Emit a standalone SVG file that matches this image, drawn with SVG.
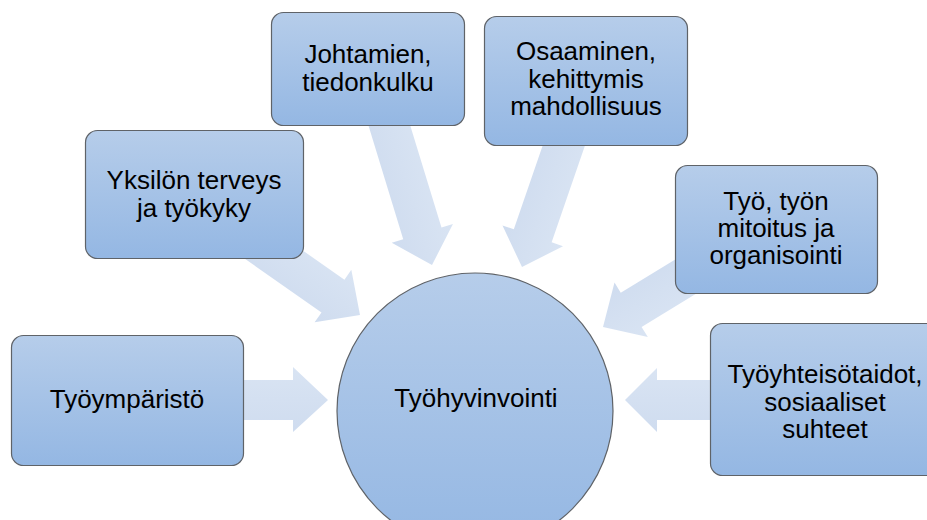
<svg xmlns="http://www.w3.org/2000/svg" width="927" height="520" viewBox="0 0 927 520">
<defs>
<linearGradient id="gBox" x1="0" y1="0" x2="0" y2="1">
<stop offset="0" stop-color="#b6cdea"/>
<stop offset="1" stop-color="#94b7e3"/>
</linearGradient>
<linearGradient id="gArrow" x1="0" y1="0" x2="0" y2="1">
<stop offset="0" stop-color="#d9e4f3"/>
<stop offset="1" stop-color="#cfdcef"/>
</linearGradient>
<path id="arr" d="M -160,-20 L -33,-20 L -33,-32 L 0,0 L -33,32 L -33,20 L -160,20 Z"/>
</defs>
<style>
.box{fill:url(#gBox);stroke:#5f6368;stroke-width:1.2}
.arrow{fill:url(#gArrow);stroke:none}
.t{font-family:"Liberation Sans",Arial,sans-serif;font-size:26px;fill:#000;text-anchor:middle}
</style>
<rect width="927" height="520" fill="#ffffff"/>
<g id="connectors">
<path class="arrow" d="M 230,380 L 293,380 L 293,367 L 328,400 L 293,432 L 293,420 L 230,420 Z"/>
<path class="arrow" d="M 720,380 L 657,380 L 657,368 L 625,400 L 657,432 L 657,420 L 720,420 Z"/>
<use href="#arr" class="arrow" transform="translate(360,315) rotate(35)"/>
<use href="#arr" class="arrow" transform="translate(432,265) rotate(73)"/>
<use href="#arr" class="arrow" transform="translate(522,267) rotate(109)"/>
<use href="#arr" class="arrow" transform="translate(603,327) rotate(148.6)"/>
</g>
<g id="node-tyoymparisto">
<rect class="box" x="11.5" y="335.5" width="232" height="130" rx="12"/>
<text class="t" x="127" y="408">Työympäristö</text>
</g>
<g id="node-yksilon">
<rect class="box" x="85.5" y="130.5" width="218" height="128" rx="12"/>
<text class="t" x="194" y="189">Yksilön terveys</text>
<text class="t" x="194" y="217">ja työkyky</text>
</g>
<g id="node-johtamien">
<rect class="box" x="271.5" y="12.5" width="193" height="113" rx="12"/>
<text class="t" x="368" y="63">Johtamien,</text>
<text class="t" x="368" y="91">tiedonkulku</text>
</g>
<g id="node-osaaminen">
<rect class="box" x="484.5" y="16.5" width="203" height="129" rx="12"/>
<text class="t" x="586" y="60">Osaaminen,</text>
<text class="t" x="586" y="88">kehittymis</text>
<text class="t" x="586" y="115">mahdollisuus</text>
</g>
<g id="node-tyo">
<rect class="box" x="675.5" y="165.5" width="202" height="128" rx="12"/>
<text class="t" x="776" y="210">Työ, työn</text>
<text class="t" x="776" y="237">mitoitus ja</text>
<text class="t" x="776" y="264">organisointi</text>
</g>
<g id="node-tyoyhteiso">
<rect class="box" x="710.5" y="323.5" width="232" height="152" rx="12"/>
<text class="t" x="825" y="383">Työyhteisötaidot,</text>
<text class="t" x="825" y="411">sosiaaliset</text>
<text class="t" x="825" y="438">suhteet</text>
</g>
<g id="node-tyohyvinvointi">
<circle class="box" cx="475" cy="411" r="138"/>
<text class="t" x="476" y="407">Työhyvinvointi</text>
</g>
</svg>
